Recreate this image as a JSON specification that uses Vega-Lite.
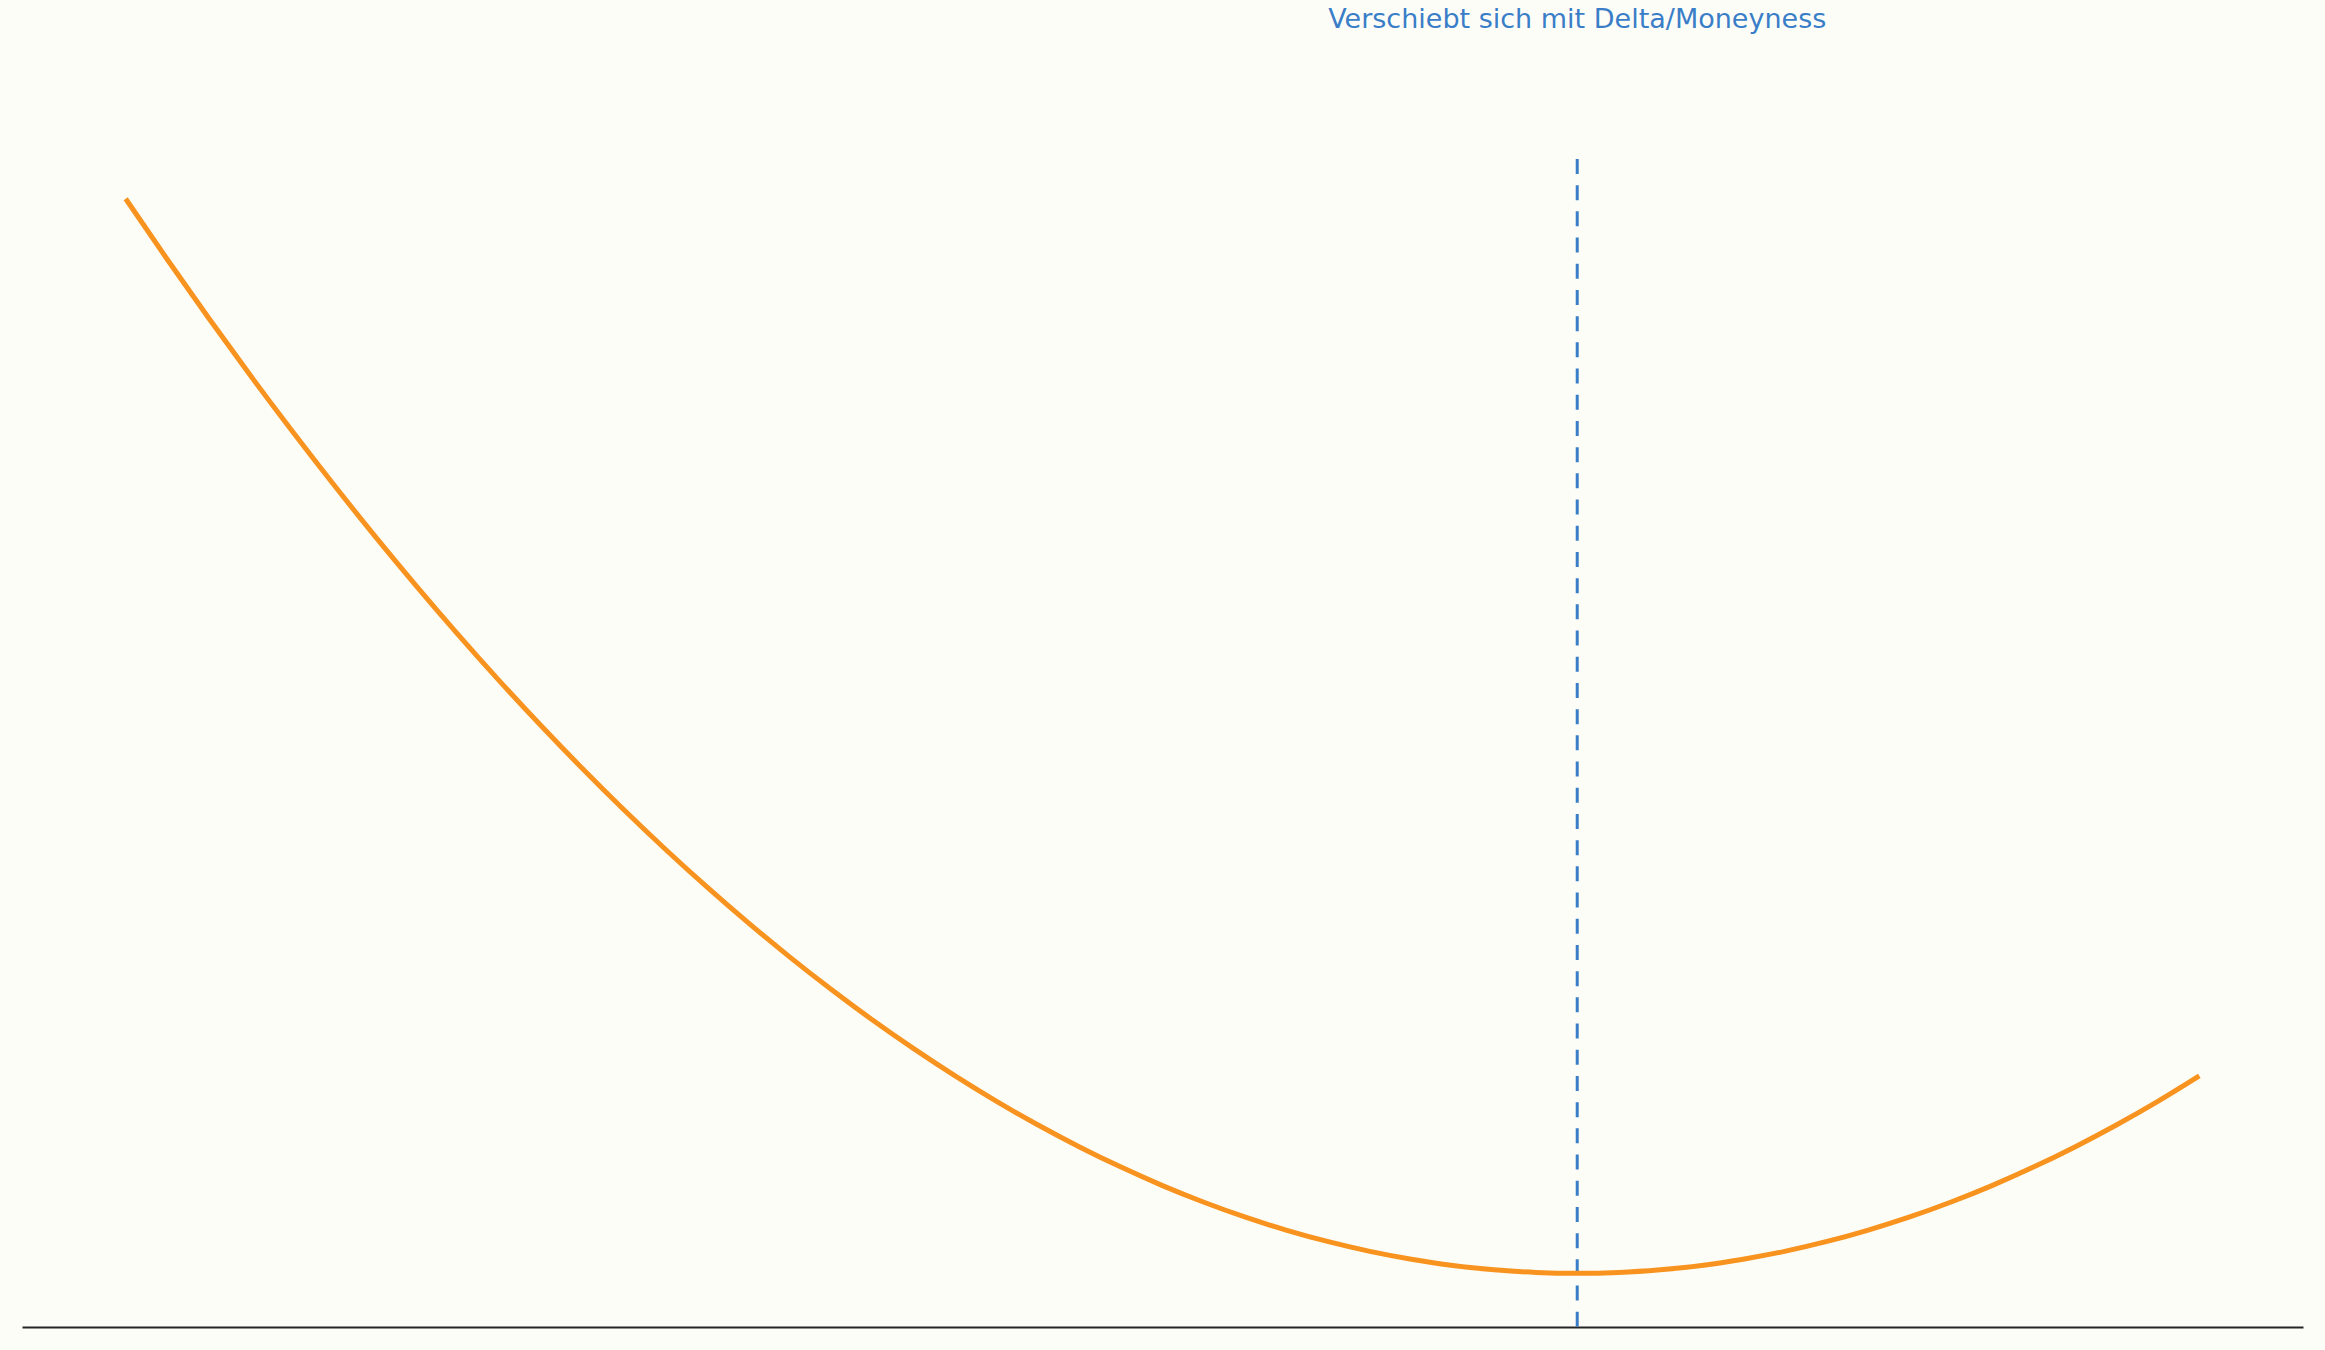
{
  "$schema": "https://vega.github.io/schema/vega-lite/v6.json",
  "width": 2281,
  "height": 1182,
  "autosize": {"type": "none"},
  "padding": {"left": 22, "top": 145, "right": 22, "bottom": 23},
  "background": "#fdfdf8",
  "config": {"view": {"stroke": null}},
  "datasets": {
    "curve": [
      {"x": 0.00, "y": 1.0000}, {"x": 0.02, "y": 0.9437}, {"x": 0.04, "y": 0.8890}, {"x": 0.06, "y": 0.8359},
      {"x": 0.08, "y": 0.7845}, {"x": 0.10, "y": 0.7347}, {"x": 0.12, "y": 0.6865}, {"x": 0.14, "y": 0.6400},
      {"x": 0.16, "y": 0.5951}, {"x": 0.18, "y": 0.5518}, {"x": 0.20, "y": 0.5102}, {"x": 0.22, "y": 0.4702},
      {"x": 0.24, "y": 0.4318}, {"x": 0.26, "y": 0.3951}, {"x": 0.28, "y": 0.3600}, {"x": 0.30, "y": 0.3265},
      {"x": 0.32, "y": 0.2947}, {"x": 0.34, "y": 0.2645}, {"x": 0.36, "y": 0.2359}, {"x": 0.38, "y": 0.2090},
      {"x": 0.40, "y": 0.1837}, {"x": 0.42, "y": 0.1600}, {"x": 0.44, "y": 0.1380}, {"x": 0.46, "y": 0.1176},
      {"x": 0.48, "y": 0.0988}, {"x": 0.50, "y": 0.0816}, {"x": 0.52, "y": 0.0661}, {"x": 0.54, "y": 0.0522},
      {"x": 0.56, "y": 0.0400}, {"x": 0.58, "y": 0.0294}, {"x": 0.60, "y": 0.0204}, {"x": 0.62, "y": 0.0131},
      {"x": 0.64, "y": 0.0073}, {"x": 0.66, "y": 0.0033}, {"x": 0.68, "y": 0.0008}, {"x": 0.70, "y": 0.0000},
      {"x": 0.72, "y": 0.0008}, {"x": 0.74, "y": 0.0033}, {"x": 0.76, "y": 0.0073}, {"x": 0.78, "y": 0.0131},
      {"x": 0.80, "y": 0.0204}, {"x": 0.82, "y": 0.0294}, {"x": 0.84, "y": 0.0400}, {"x": 0.86, "y": 0.0522},
      {"x": 0.88, "y": 0.0661}, {"x": 0.90, "y": 0.0816}, {"x": 0.92, "y": 0.0988}, {"x": 0.94, "y": 0.1176},
      {"x": 0.96, "y": 0.1380}, {"x": 0.98, "y": 0.1600}, {"x": 1.00, "y": 0.1837}
    ],
    "marker": [{"x": 0.7, "top": 1.037, "bottom": -0.05}],
    "note": [{"x": 0.7, "y": 1.1586, "label": "Verschiebt sich mit Delta/Moneyness"}]
  },
  "layer": [
    {
      "data": {"name": "marker"},
      "mark": {"type": "rule", "color": "#3a7ec8", "strokeWidth": 3, "strokeDash": [15, 11.2]},
      "encoding": {
        "x": {"field": "x", "type": "quantitative", "scale": {"domain": [-0.05, 1.05], "nice": false, "zero": false},
              "axis": {"domain": true, "domainColor": "#262626", "domainWidth": 2.2, "ticks": false, "labels": false, "grid": false, "title": null}},
        "y": {"field": "top", "type": "quantitative", "scale": {"domain": [-0.05, 1.05], "nice": false, "zero": false}, "axis": null},
        "y2": {"field": "bottom"}
      }
    },
    {
      "data": {"name": "curve"},
      "mark": {"type": "line", "color": "#f7931e", "strokeWidth": 5, "interpolate": "monotone"},
      "encoding": {
        "x": {"field": "x", "type": "quantitative"},
        "y": {"field": "y", "type": "quantitative"}
      }
    },
    {
      "data": {"name": "note"},
      "mark": {"type": "text", "color": "#3a7ec8", "font": "DejaVu Sans", "fontSize": 27, "align": "center", "baseline": "alphabetic"},
      "encoding": {
        "x": {"field": "x", "type": "quantitative"},
        "y": {"field": "y", "type": "quantitative"},
        "text": {"field": "label"}
      }
    }
  ]
}
